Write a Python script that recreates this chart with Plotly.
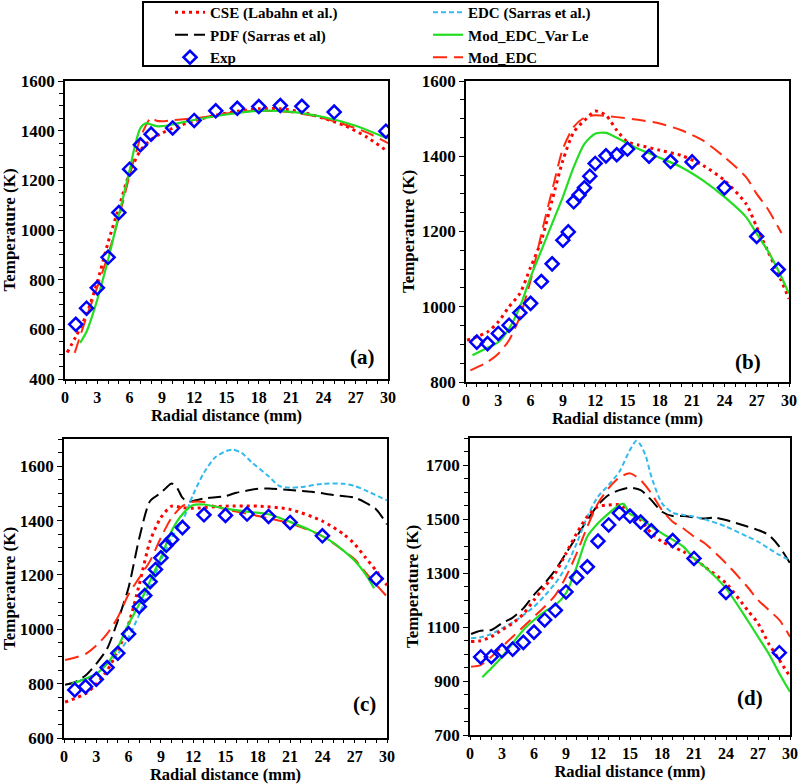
import plotly.graph_objects as go

# ---------------- Panel (a) ----------------
a_exp_x = [1, 2, 3, 4, 5, 6, 7, 8, 10, 12, 14, 16, 18, 20, 22, 25, 29.8]
a_exp_y = [620, 685, 767, 890, 1070, 1245, 1343, 1386, 1411, 1441, 1480, 1490, 1497, 1501, 1498, 1475, 1398]
a_cse_x = [0.2, 1, 2, 3, 4, 5, 6, 7, 8, 9, 10, 12, 14, 16, 18, 20, 22, 24, 26, 28, 30]
a_cse_y = [507, 570, 660, 790, 950, 1090, 1230, 1320, 1365, 1390, 1410, 1440, 1462, 1478, 1488, 1488, 1475, 1450, 1420, 1375, 1315]
a_mod_x = [0.9, 2, 3, 4, 5, 6, 7, 7.5, 8, 8.5, 9, 10, 12, 14, 16, 18, 20, 22, 24, 26, 28, 30]
a_mod_y = [505, 650, 770, 900, 1050, 1220, 1370, 1420, 1453, 1440, 1438, 1442, 1450, 1462, 1475, 1480, 1478, 1468, 1450, 1425, 1393, 1350]
a_var_x = [1.4, 2, 2.5, 3, 4, 5, 6, 6.5, 7, 7.5, 8, 8.5, 9, 10, 12, 15, 18, 21, 24, 27, 30]
a_var_y = [545, 590, 650, 720, 880, 1060, 1240, 1340, 1410, 1430, 1425, 1418, 1418, 1425, 1443, 1465, 1480, 1476, 1455, 1420, 1368]

# ---------------- Panel (b) ----------------
b_exp_x = [1, 2, 3, 4, 5, 6, 7, 8, 9, 9.5, 10, 10.5, 11, 11.5, 12, 13, 14, 15, 17, 19, 21, 24, 27, 29]
b_exp_y = [906, 902, 929, 951, 984, 1009, 1067, 1114, 1177, 1199, 1279, 1297, 1316, 1347, 1381, 1401, 1404, 1419, 1400, 1386, 1385, 1316, 1187, 1099]
b_cse_x = [0.1, 2, 3, 4, 5, 6, 7, 8, 9, 10, 11, 12, 13, 14, 15, 16, 18, 20, 22, 24, 26, 27, 28, 29, 30]
b_cse_y = [911, 933, 960, 1000, 1035, 1105, 1176, 1283, 1389, 1464, 1495, 1520, 1509, 1469, 1438, 1430, 1416, 1402, 1376, 1336, 1274, 1212, 1150, 1088, 1021]
b_mod_x = [0.4, 2, 3, 4, 5, 6, 7, 8, 9, 10, 11, 12, 14, 16, 18, 20, 22, 24, 26, 27, 28, 29.3]
b_mod_y = [831, 853, 875, 911, 973, 1070, 1194, 1309, 1420, 1478, 1503, 1509, 1504, 1497, 1487, 1469, 1442, 1398, 1345, 1300, 1261, 1196]
b_var_x = [0.6, 2, 3, 4, 5, 6, 7, 8, 9, 10, 11, 12, 13, 14, 16, 18, 20, 22, 24, 26, 27, 28, 29, 30]
b_var_y = [871, 891, 906, 942, 999, 1079, 1150, 1221, 1292, 1371, 1433, 1460, 1462, 1449, 1420, 1396, 1371, 1336, 1292, 1239, 1194, 1150, 1097, 1035]

# ---------------- Panel (c) ----------------
c_exp_x = [1, 2, 3, 4, 5, 6, 7, 7.5, 8, 8.5, 9, 9.5, 10, 11, 13, 15, 17, 19, 21, 24, 29]
c_exp_y = [777, 789, 816, 859, 912, 983, 1083, 1124, 1175, 1220, 1263, 1309, 1330, 1374, 1421, 1419, 1424, 1415, 1393, 1344, 1186]
c_cse_x = [0.1, 2, 3, 4, 5, 6, 7, 8, 9, 10, 11, 12, 15, 18, 21, 24, 26, 27, 28, 29, 30]
c_cse_y = [732, 763, 799, 848, 921, 1019, 1166, 1325, 1411, 1453, 1447, 1445, 1453, 1453, 1441, 1398, 1349, 1313, 1264, 1215, 1162]
c_mod_x = [0.1, 2, 3, 4, 5, 6, 7, 8, 9, 10, 11, 12, 13, 14, 15, 18, 21, 24, 26, 27, 28, 29, 30]
c_mod_y = [887, 909, 940, 983, 1044, 1129, 1190, 1252, 1337, 1411, 1453, 1469, 1468, 1453, 1441, 1417, 1389, 1343, 1288, 1258, 1209, 1164, 1120]
c_pdf_x = [0.1, 1, 2, 3, 4, 5, 6, 7, 8, 9, 9.5, 10, 10.5, 11, 11.5, 12, 13, 15, 16, 18, 19, 21, 23, 25, 27, 28, 29, 30]
c_pdf_y = [796, 805, 830, 873, 928, 1032, 1154, 1337, 1472, 1502, 1521, 1536, 1520, 1484, 1469, 1472, 1481, 1490, 1502, 1517, 1518, 1512, 1506, 1494, 1484, 1466, 1441, 1386]
c_edc_x = [1.5, 3, 4, 5, 6, 7, 8, 9, 10, 11, 12, 13, 14, 15, 15.7, 16.5, 17.5, 19, 20, 21, 22, 24, 26, 27, 28, 30]
c_edc_y = [812, 836, 873, 909, 970, 1056, 1154, 1252, 1337, 1398, 1496, 1576, 1631, 1655, 1661, 1649, 1612, 1563, 1527, 1521, 1523, 1535, 1535, 1527, 1511, 1474]
c_var_x = [0.7, 2, 3, 4, 5, 6, 7, 8, 9, 10, 11, 12, 13, 15, 17, 19, 21, 23, 25, 27, 28, 28.8]
c_var_y = [799, 818, 836, 873, 934, 1019, 1093, 1178, 1264, 1362, 1423, 1457, 1459, 1444, 1433, 1423, 1395, 1362, 1319, 1252, 1203, 1151]

# ---------------- Panel (d) ----------------
d_exp_x = [1, 2, 3, 4, 5, 6, 7, 8, 9, 10, 11, 12, 13, 14, 15, 16, 17, 19, 21, 24, 29]
d_exp_y = [989, 990, 1012, 1018, 1043, 1081, 1126, 1162, 1230, 1283, 1323, 1418, 1478, 1522, 1511, 1489, 1456, 1420, 1354, 1228, 1005]
d_cse_x = [0.1, 1, 2, 3, 4, 5, 6, 7, 8, 9, 10, 11, 12, 13, 14, 15, 16, 17, 18, 20, 21, 22, 24, 26, 27, 28, 29, 30]
d_cse_y = [1046, 1049, 1064, 1089, 1114, 1148, 1200, 1249, 1299, 1373, 1447, 1509, 1546, 1552, 1552, 1527, 1496, 1447, 1416, 1379, 1354, 1323, 1262, 1163, 1114, 1039, 978, 916]
d_pdf_x = [0.1, 1, 2, 3, 4, 5, 6, 7, 8, 9, 10, 11, 12, 13, 14, 15, 16, 17, 18, 19, 20, 22, 23, 24, 26, 27, 28, 29, 30]
d_pdf_y = [1074, 1086, 1089, 1114, 1135, 1169, 1219, 1262, 1311, 1373, 1435, 1496, 1552, 1589, 1607, 1616, 1607, 1570, 1527, 1511, 1511, 1502, 1505, 1496, 1472, 1459, 1441, 1398, 1336]
d_edc_x = [0.1, 1, 2, 3, 4, 5, 6, 7, 8, 9, 10, 11, 12, 13, 14, 15, 15.6, 16, 16.5, 17, 18, 19, 20, 21, 22, 24, 26, 27, 28, 29, 30]
d_edc_y = [1058, 1062, 1074, 1095, 1117, 1144, 1175, 1216, 1262, 1323, 1410, 1509, 1583, 1626, 1675, 1756, 1790, 1774, 1731, 1657, 1558, 1523, 1515, 1509, 1499, 1472, 1435, 1416, 1391, 1367, 1346]
d_mod_x = [0.1, 1, 2, 3, 4, 5, 6, 7, 8, 9, 10, 11, 12, 13, 14, 15, 16, 17, 18, 19, 20, 21, 22, 24, 26, 27, 28, 29, 30]
d_mod_y = [953, 959, 990, 1027, 1064, 1101, 1138, 1175, 1218, 1286, 1373, 1472, 1558, 1614, 1654, 1669, 1644, 1595, 1533, 1490, 1465, 1435, 1410, 1336, 1249, 1200, 1163, 1126, 1064]
d_var_x = [1.15, 2, 3, 4, 5, 6, 7, 8, 9, 10, 11, 12, 13, 14, 14.4, 15, 16, 17, 18, 20, 21, 22, 24, 26, 27, 28, 29, 30]
d_var_y = [914, 947, 990, 1040, 1089, 1126, 1157, 1181, 1225, 1323, 1435, 1484, 1521, 1552, 1556, 1519, 1502, 1472, 1447, 1398, 1354, 1323, 1243, 1126, 1064, 1002, 928, 860]

# Tick / label info
x_ticks = [0, 3, 6, 9, 12, 15, 18, 21, 24, 27, 30]
panel_labels = ["(a)", "(b)", "(c)", "(d)"]
x_title = "Radial distance (mm)"
y_title = "Temperature (K)"

FONT = "Liberation Serif, Times New Roman, DejaVu Serif, serif"

STY = {
    "CSE (Labahn et al.)": dict(color="#FF0000", width=3, dash="3px,4px"),
    "EDC (Sarras et al.)": dict(color="#33BBEE", width=2, dash="5px,3px"),
    "PDF (Sarras et al)": dict(color="#000000", width=2, dash="13px,6px"),
    "Mod_EDC_Var Le": dict(color="#22DD22", width=2.2, dash="solid"),
    "Mod_EDC": dict(color="#FF2A10", width=2, dash="14px,7px"),
}
LEG = {
    "CSE (Labahn et al.)": "legend",
    "PDF (Sarras et al)": "legend",
    "Exp": "legend",
    "EDC (Sarras et al.)": "legend2",
    "Mod_EDC_Var Le": "legend2",
    "Mod_EDC": "legend2",
}
RANK = {"CSE (Labahn et al.)": 1, "PDF (Sarras et al)": 2, "Exp": 3,
        "EDC (Sarras et al.)": 1, "Mod_EDC_Var Le": 2, "Mod_EDC": 3}

fig = go.Figure()
shown = set()


def add_line(name, xs, ys, ax):
    show = name not in shown
    shown.add(name)
    fig.add_trace(go.Scatter(
        x=xs, y=ys, mode="lines", name=name,
        line=dict(shape="spline", smoothing=0.7, **STY[name]),
        xaxis="x" + ax, yaxis="y" + ax, showlegend=show,
        legend=LEG[name], legendrank=RANK[name]))


def add_exp(xs, ys, ax):
    show = "Exp" not in shown
    shown.add("Exp")
    fig.add_trace(go.Scatter(
        x=xs, y=ys, mode="markers", name="Exp",
        marker=dict(symbol="diamond-open", size=10, color="#0000FF",
                    line=dict(width=2.5, color="#0000FF")),
        xaxis="x" + ax, yaxis="y" + ax, showlegend=show,
        legend="legend", legendrank=RANK["Exp"]))


# panel c first for legend (has all series)
add_line("CSE (Labahn et al.)", c_cse_x, c_cse_y, "3")
add_line("PDF (Sarras et al)", c_pdf_x, c_pdf_y, "3")
add_line("EDC (Sarras et al.)", c_edc_x, c_edc_y, "3")
add_line("Mod_EDC", c_mod_x, c_mod_y, "3")
add_line("Mod_EDC_Var Le", c_var_x, c_var_y, "3")
add_exp(c_exp_x, c_exp_y, "3")

add_line("CSE (Labahn et al.)", a_cse_x, a_cse_y, "")
add_line("Mod_EDC", a_mod_x, a_mod_y, "")
add_line("Mod_EDC_Var Le", a_var_x, a_var_y, "")
add_exp(a_exp_x, a_exp_y, "")

add_line("CSE (Labahn et al.)", b_cse_x, b_cse_y, "2")
add_line("Mod_EDC", b_mod_x, b_mod_y, "2")
add_line("Mod_EDC_Var Le", b_var_x, b_var_y, "2")
add_exp(b_exp_x, b_exp_y, "2")

add_line("PDF (Sarras et al)", d_pdf_x, d_pdf_y, "4")
add_line("EDC (Sarras et al.)", d_edc_x, d_edc_y, "4")
add_line("Mod_EDC", d_mod_x, d_mod_y, "4")
add_line("CSE (Labahn et al.)", d_cse_x, d_cse_y, "4")
add_line("Mod_EDC_Var Le", d_var_x, d_var_y, "4")
add_exp(d_exp_x, d_exp_y, "4")

W, H = 800, 784
tickfont = dict(family=FONT, size=17, color="black", weight="bold")
xtickfont = dict(family=FONT, size=16, color="black", weight="bold")
titlefont = dict(family=FONT, size=17, color="black", weight="bold")
xtitlefont = dict(family=FONT, size=16.5, color="black", weight="bold")

panels = {
    "": dict(x=(65, 388), y=(81, 379), yr=(400, 1600), t0=400),
    "2": dict(x=(466, 789), y=(81, 382), yr=(800, 1600), t0=800),
    "3": dict(x=(64, 387), y=(439, 738), yr=(600, 1700), t0=600),
    "4": dict(x=(470, 790), y=(438, 735), yr=(700, 1800), t0=700),
}

layout = {}
for i, (k, p) in enumerate(panels.items()):
    xd = [p["x"][0] / W, p["x"][1] / W]
    yd = [1 - p["y"][1] / H, 1 - p["y"][0] / H]
    layout["xaxis" + k] = dict(
        domain=xd, range=[0, 30], anchor="y" + k, tickmode="array", tickvals=x_ticks,
        ticks="outside", ticklen=3, tickwidth=1.2, tickcolor="black",
        minor=dict(dtick=1, tick0=0, ticks="outside", ticklen=3, tickcolor="black"),
        showline=True, linecolor="black", linewidth=1.5, mirror=True,
        showgrid=False, zeroline=False, tickfont=xtickfont, automargin=False,
        title=dict(text=x_title, font=xtitlefont, standoff=0))
    layout["yaxis" + k] = dict(
        domain=yd, range=list(p["yr"]), anchor="x" + k, dtick=200, tick0=p["t0"],
        ticks="outside", ticklen=5, tickwidth=1.2, tickcolor="black",
        minor=dict(dtick=50, tick0=p["t0"], ticks="outside", ticklen=4, tickcolor="black"),
        showline=True, linecolor="black", linewidth=1.5, mirror=True,
        showgrid=False, zeroline=False, tickfont=tickfont, automargin=False,
        title=dict(text=y_title, font=titlefont, standoff=3))

annotations = []
label_pos = [(362, 357), (763, 362), (364, 718), (765, 712)]
for lab, (px, py) in zip(panel_labels, label_pos):
    annotations.append(dict(text=lab, x=px / W, y=1 - py / H, xref="paper", yref="paper",
                            showarrow=False, font=dict(family=FONT, size=21, color="black", weight="bold")))

legfont = dict(family=FONT, size=15, color="black", weight="bold")
fig.update_layout(
    template="none",
    width=W, height=H, margin=dict(l=0, r=0, t=0, b=0, autoexpand=False),
    paper_bgcolor="white", plot_bgcolor="white",
    annotations=annotations,
    legend=dict(x=170 / W, y=1 + 4 / H, xanchor="left", yanchor="top", font=legfont,
                bgcolor="rgba(0,0,0,0)", tracegroupgap=0, itemwidth=30),
    legend2=dict(x=428 / W, y=1 + 4 / H, xanchor="left", yanchor="top", font=legfont,
                 bgcolor="rgba(0,0,0,0)", tracegroupgap=0, itemwidth=30),
    shapes=[dict(type="rect", xref="paper", yref="paper", x0=143 / W, x1=658 / W,
                 y0=1 - 66 / H, y1=1 - 2 / H, line=dict(color="black", width=2))],
    **layout)

fig.write_html("out.html", config={"displayModeBar": False},
               post_script="document.body.style.margin='0px';")
